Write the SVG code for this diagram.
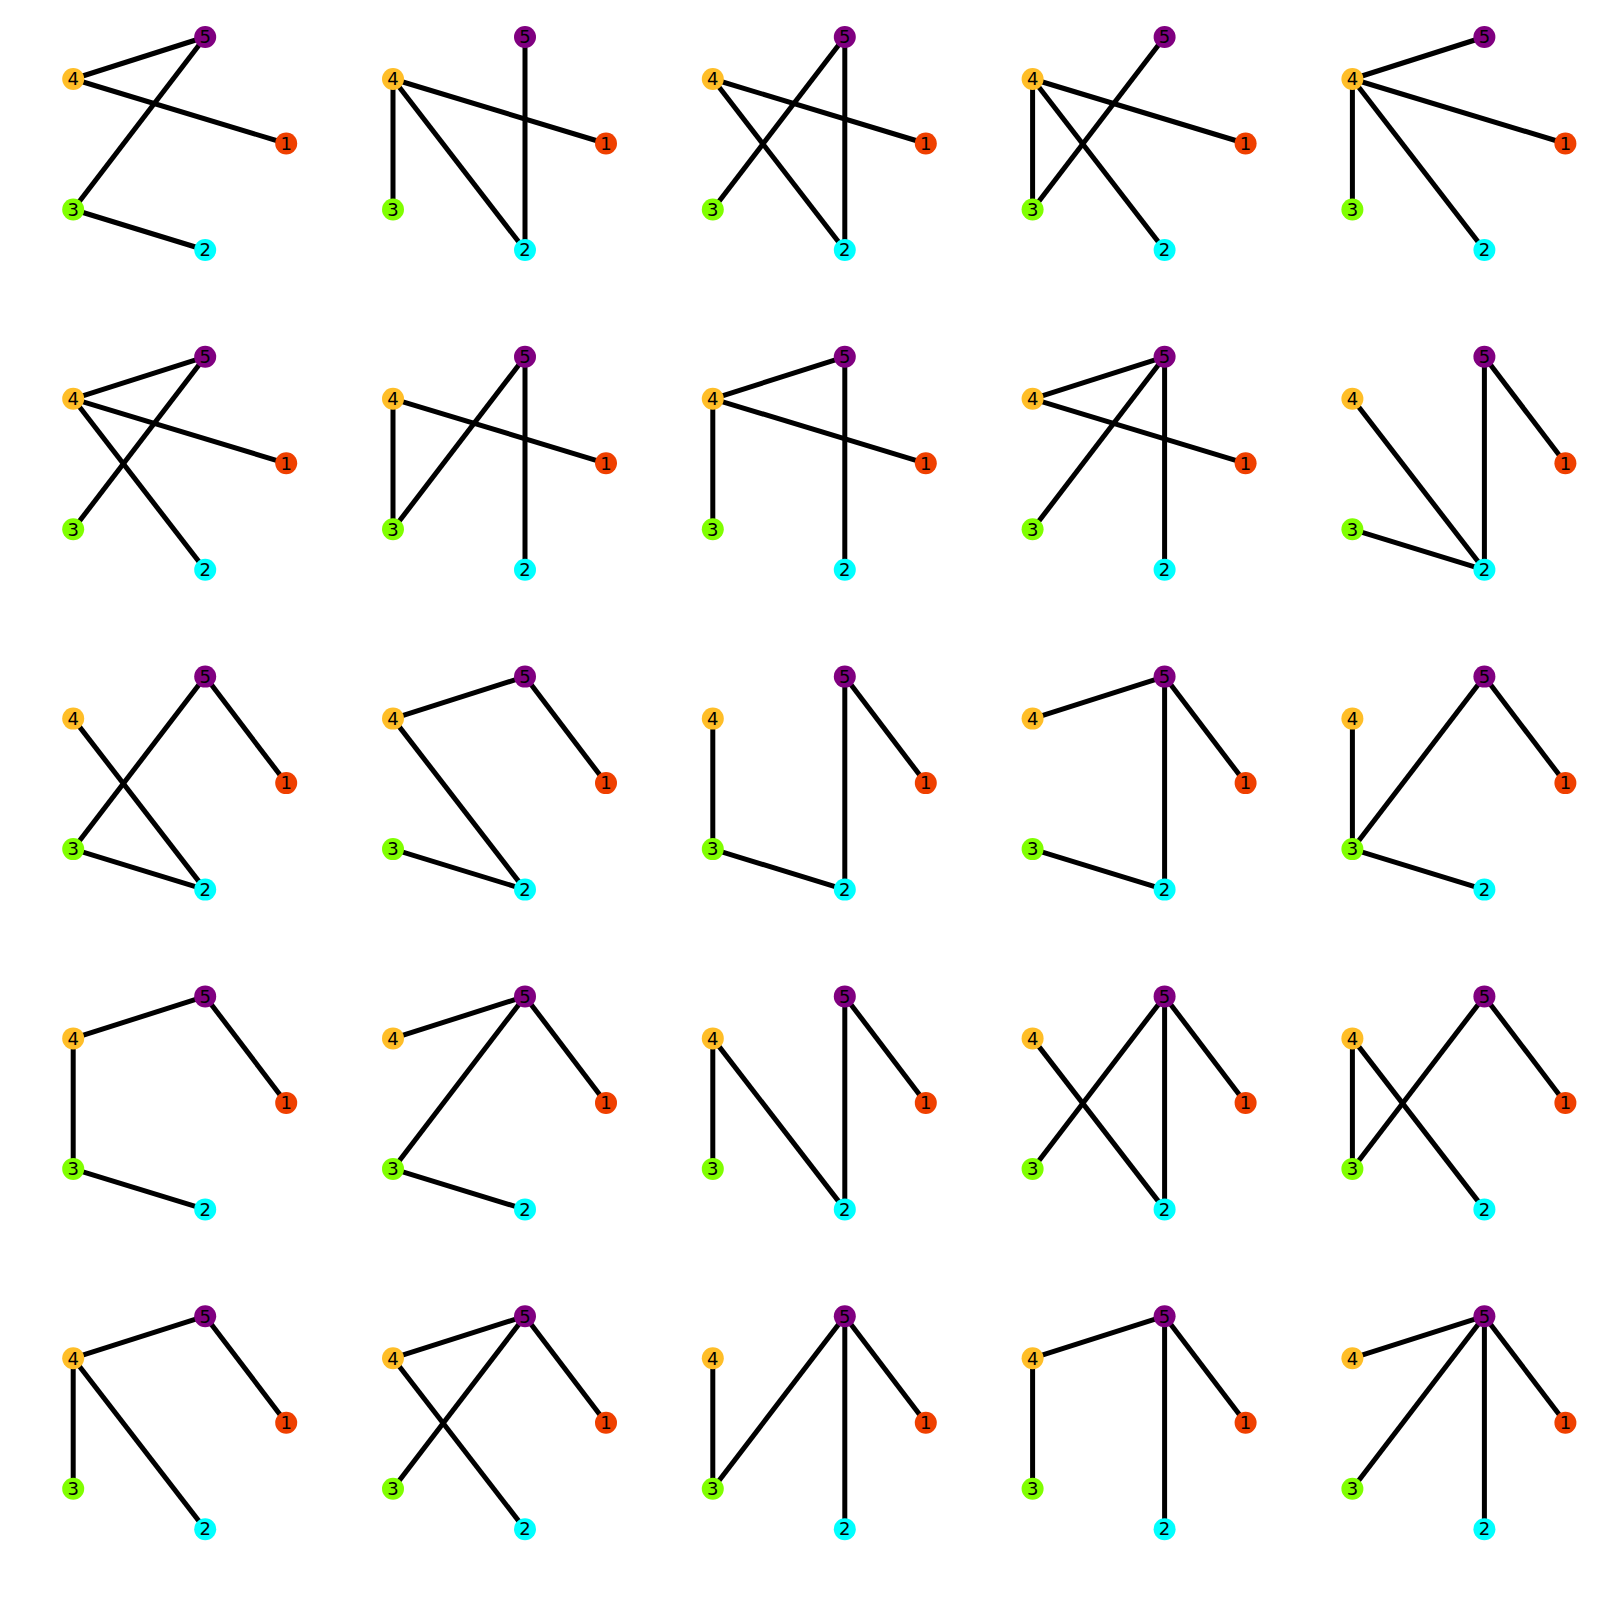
<svg xmlns="http://www.w3.org/2000/svg" xmlns:xlink="http://www.w3.org/1999/xlink" width="1599" height="1600" viewBox="0 0 1599 1600">
<style>
.e{stroke:#000;stroke-width:5;stroke-linecap:butt;fill:none}
.n circle{stroke:none}
.n text{font-family:"DejaVu Sans",sans-serif;font-size:18px;text-anchor:middle;fill:#000}
.c1{fill:#ef4000}.c2{fill:#00ffff}.c3{fill:#80ff00}.c4{fill:#ffbe28}.c5{fill:#800080}
</style>
<defs>
<line id="e45" x1="0" y1="0" x2="132" y2="-42" class="e"/>
<line id="e41" x1="0" y1="0" x2="213" y2="64.5" class="e"/>
<line id="e43" x1="0" y1="0" x2="0" y2="130.5" class="e"/>
<line id="e42" x1="0" y1="0" x2="132" y2="171" class="e"/>
<line id="e53" x1="132" y1="-42" x2="0" y2="130.5" class="e"/>
<line id="e52" x1="132" y1="-42" x2="132" y2="171" class="e"/>
<line id="e51" x1="132" y1="-42" x2="213" y2="64.5" class="e"/>
<line id="e32" x1="0" y1="130.5" x2="132" y2="171" class="e"/>
<g id="nodes">
<g class="n"><circle class="c1" cx="213" cy="64.5" r="11"/><text x="213" y="70.8">1</text></g>
<g class="n"><circle class="c2" cx="132" cy="171" r="11"/><text x="132" y="177.3">2</text></g>
<g class="n"><circle class="c3" cx="0" cy="130.5" r="11"/><text x="0" y="136.8">3</text></g>
<g class="n"><circle class="c4" cx="0" cy="0" r="11"/><text x="0" y="6.3">4</text></g>
<g class="n"><circle class="c5" cx="132" cy="-42" r="11"/><text x="132" y="-35.7">5</text></g>
</g>
</defs>
<rect width="1599" height="1600" fill="#fff"/>
<g id="connectors">
<g transform="translate(73.2,79)"><use href="#e45"/><use href="#e41"/><use href="#e53"/><use href="#e32"/></g>
<g transform="translate(393,79)"><use href="#e41"/><use href="#e43"/><use href="#e42"/><use href="#e52"/></g>
<g transform="translate(712.8,79)"><use href="#e41"/><use href="#e42"/><use href="#e53"/><use href="#e52"/></g>
<g transform="translate(1032.6,79)"><use href="#e41"/><use href="#e43"/><use href="#e42"/><use href="#e53"/></g>
<g transform="translate(1352.4,79)"><use href="#e45"/><use href="#e41"/><use href="#e43"/><use href="#e42"/></g>

<g transform="translate(73.2,398.8)"><use href="#e45"/><use href="#e41"/><use href="#e42"/><use href="#e53"/></g>
<g transform="translate(393,398.8)"><use href="#e41"/><use href="#e43"/><use href="#e53"/><use href="#e52"/></g>
<g transform="translate(712.8,398.8)"><use href="#e45"/><use href="#e41"/><use href="#e43"/><use href="#e52"/></g>
<g transform="translate(1032.6,398.8)"><use href="#e45"/><use href="#e41"/><use href="#e53"/><use href="#e52"/></g>
<g transform="translate(1352.4,398.8)"><use href="#e42"/><use href="#e51"/><use href="#e52"/><use href="#e32"/></g>

<g transform="translate(73.2,718.6)"><use href="#e42"/><use href="#e53"/><use href="#e51"/><use href="#e32"/></g>
<g transform="translate(393,718.6)"><use href="#e45"/><use href="#e42"/><use href="#e51"/><use href="#e32"/></g>
<g transform="translate(712.8,718.6)"><use href="#e43"/><use href="#e51"/><use href="#e52"/><use href="#e32"/></g>
<g transform="translate(1032.6,718.6)"><use href="#e45"/><use href="#e51"/><use href="#e52"/><use href="#e32"/></g>
<g transform="translate(1352.4,718.6)"><use href="#e43"/><use href="#e53"/><use href="#e51"/><use href="#e32"/></g>

<g transform="translate(73.2,1038.4)"><use href="#e45"/><use href="#e43"/><use href="#e51"/><use href="#e32"/></g>
<g transform="translate(393,1038.4)"><use href="#e45"/><use href="#e53"/><use href="#e51"/><use href="#e32"/></g>
<g transform="translate(712.8,1038.4)"><use href="#e43"/><use href="#e42"/><use href="#e51"/><use href="#e52"/></g>
<g transform="translate(1032.6,1038.4)"><use href="#e42"/><use href="#e53"/><use href="#e51"/><use href="#e52"/></g>
<g transform="translate(1352.4,1038.4)"><use href="#e43"/><use href="#e42"/><use href="#e53"/><use href="#e51"/></g>

<g transform="translate(73.2,1358.2)"><use href="#e45"/><use href="#e43"/><use href="#e42"/><use href="#e51"/></g>
<g transform="translate(393,1358.2)"><use href="#e45"/><use href="#e42"/><use href="#e53"/><use href="#e51"/></g>
<g transform="translate(712.8,1358.2)"><use href="#e43"/><use href="#e53"/><use href="#e51"/><use href="#e52"/></g>
<g transform="translate(1032.6,1358.2)"><use href="#e45"/><use href="#e43"/><use href="#e51"/><use href="#e52"/></g>
<g transform="translate(1352.4,1358.2)"><use href="#e45"/><use href="#e53"/><use href="#e51"/><use href="#e52"/></g>
</g>
<g id="graphs">
<g id="g1" transform="translate(73.2,79)"><use href="#nodes"/></g>
<g id="g2" transform="translate(393,79)"><use href="#nodes"/></g>
<g id="g3" transform="translate(712.8,79)"><use href="#nodes"/></g>
<g id="g4" transform="translate(1032.6,79)"><use href="#nodes"/></g>
<g id="g5" transform="translate(1352.4,79)"><use href="#nodes"/></g>
<g id="g6" transform="translate(73.2,398.8)"><use href="#nodes"/></g>
<g id="g7" transform="translate(393,398.8)"><use href="#nodes"/></g>
<g id="g8" transform="translate(712.8,398.8)"><use href="#nodes"/></g>
<g id="g9" transform="translate(1032.6,398.8)"><use href="#nodes"/></g>
<g id="g10" transform="translate(1352.4,398.8)"><use href="#nodes"/></g>
<g id="g11" transform="translate(73.2,718.6)"><use href="#nodes"/></g>
<g id="g12" transform="translate(393,718.6)"><use href="#nodes"/></g>
<g id="g13" transform="translate(712.8,718.6)"><use href="#nodes"/></g>
<g id="g14" transform="translate(1032.6,718.6)"><use href="#nodes"/></g>
<g id="g15" transform="translate(1352.4,718.6)"><use href="#nodes"/></g>
<g id="g16" transform="translate(73.2,1038.4)"><use href="#nodes"/></g>
<g id="g17" transform="translate(393,1038.4)"><use href="#nodes"/></g>
<g id="g18" transform="translate(712.8,1038.4)"><use href="#nodes"/></g>
<g id="g19" transform="translate(1032.6,1038.4)"><use href="#nodes"/></g>
<g id="g20" transform="translate(1352.4,1038.4)"><use href="#nodes"/></g>
<g id="g21" transform="translate(73.2,1358.2)"><use href="#nodes"/></g>
<g id="g22" transform="translate(393,1358.2)"><use href="#nodes"/></g>
<g id="g23" transform="translate(712.8,1358.2)"><use href="#nodes"/></g>
<g id="g24" transform="translate(1032.6,1358.2)"><use href="#nodes"/></g>
<g id="g25" transform="translate(1352.4,1358.2)"><use href="#nodes"/></g>
</g>
</svg>
